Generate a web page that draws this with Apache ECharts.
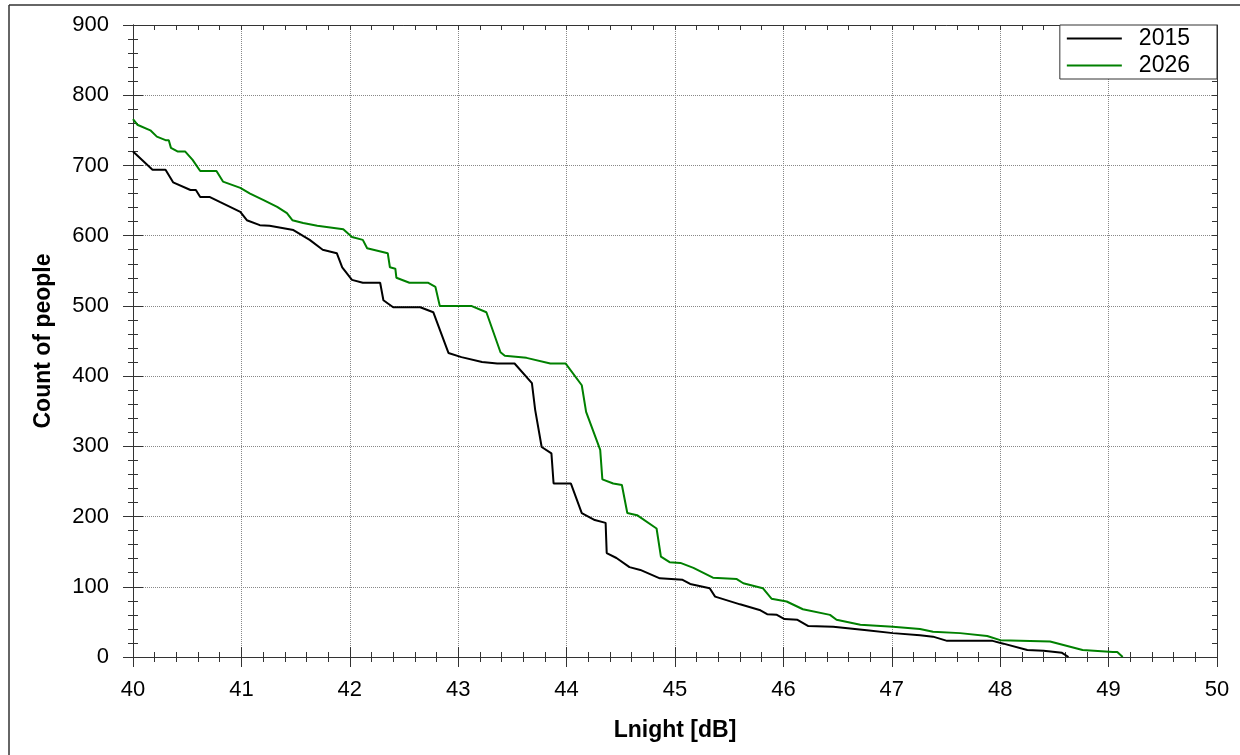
<!DOCTYPE html>
<html>
<head>
<meta charset="utf-8">
<script src="https://cdn.jsdelivr.net/npm/echarts/dist/echarts.min.js"></script>
<style>
    html, body { margin: 0; padding: 0; background: #fff; }
    #chart { width: 1240px; height: 755px; }
</style>
</head>
<body>
<div id="chart"></div>
<script>
let seriesNames = ['2015', '2026'];

let x2015 = [40.00, 40.18, 40.30, 40.37, 40.53, 40.58, 40.62, 40.71, 40.80, 40.99,
    41.05, 41.17, 41.26, 41.48, 41.63, 41.75, 41.88, 41.93, 42.02, 42.12,
    42.28, 42.31, 42.40, 42.65, 42.77, 42.91, 43.03, 43.22, 43.36, 43.52,
    43.68, 43.71, 43.77, 43.86, 43.88, 44.04, 44.14, 44.26, 44.36, 44.37,
    44.46, 44.58, 44.68, 44.86, 45.07, 45.14, 45.32, 45.37, 45.60, 45.78,
    45.85, 45.94, 46.01, 46.13, 46.23, 46.46, 46.77, 47.01, 47.26, 47.38,
    47.51, 47.93, 48.03, 48.25, 48.40, 48.57, 48.63];
let y2015 = [720, 694, 694, 676, 665, 665, 655, 655, 648, 634,
    622, 615, 614, 608, 594, 580, 575, 555, 537, 533,
    533, 508, 498, 498, 491, 433, 427, 420, 418, 418,
    390, 352, 299, 290, 247, 247, 205, 195, 191, 148,
    141, 128, 124, 112, 110, 104, 98, 86, 75, 67,
    61, 60, 54, 53, 44, 43, 38, 34, 31, 29,
    23, 23, 19, 10, 9, 6, 0];

let x2026 = [40.00, 40.04, 40.16, 40.22, 40.30, 40.33, 40.35, 40.41, 40.48, 40.55,
    40.62, 40.77, 40.83, 40.99, 41.08, 41.20, 41.33, 41.42, 41.47, 41.57,
    41.70, 41.94, 42.02, 42.12, 42.16, 42.35, 42.37, 42.42, 42.43, 42.55,
    42.72, 42.79, 42.83, 43.12, 43.26, 43.39, 43.43, 43.63, 43.85, 43.99,
    44.14, 44.18, 44.31, 44.33, 44.43, 44.51, 44.56, 44.65, 44.83, 44.87,
    44.95, 45.05, 45.17, 45.35, 45.57, 45.63, 45.81, 45.89, 46.03, 46.18,
    46.43, 46.49, 46.71, 47.01, 47.26, 47.38, 47.63, 47.88, 48.00, 48.46,
    48.76, 49.04, 49.08, 49.13];
let y2026 = [766, 758, 750, 741, 736, 736, 725, 720, 720, 708,
    692, 692, 677, 668, 660, 651, 641, 632, 622, 618,
    614, 609, 598, 594, 582, 575, 555, 553, 540, 533,
    533, 527, 500, 500, 491, 434, 429, 426, 418, 418,
    387, 349, 295, 253, 247, 245, 205, 202, 183, 143,
    135, 134, 127, 113, 111, 105, 98, 83, 79, 68,
    60, 53, 46, 43, 40, 36, 34, 30, 24, 22,
    10, 7, 7, 0];

let xTicks = { min: 40, max: 50, interval: 1 };
let yTicks = { min: 0, max: 900, interval: 100 };

function pairs(xs, ys) {
    return xs.map(function (x, i) { return [x, ys[i]]; });
}

let axisColor = '#333';
let font = 'Liberation Sans, Arial, sans-serif';

// one axis draws labels + outer ticks, the others only add the inner ticks
function xAxisPart(position, inside, withLabels, tickLen, minorLen) {
    return {
        type: 'value', position: position,
        min: xTicks.min, max: xTicks.max, interval: xTicks.interval,
        axisLine: { show: true, onZero: false, lineStyle: { color: axisColor, width: 1 } },
        axisTick: { show: true, inside: inside, length: tickLen, lineStyle: { color: axisColor } },
        minorTick: { show: true, splitNumber: 5, length: minorLen, lineStyle: { color: axisColor } },
        axisLabel: { show: withLabels, fontSize: 22, margin: 22, color: '#000', fontFamily: font },
        splitLine: { show: withLabels, lineStyle: { type: 'dotted', color: '#888', width: 1 } },
        minorSplitLine: { show: false }
    };
}
function yAxisPart(position, inside, withLabels, tickLen, minorLen) {
    return {
        type: 'value', position: position,
        min: yTicks.min, max: yTicks.max, interval: yTicks.interval,
        axisLine: { show: true, onZero: false, lineStyle: { color: axisColor, width: 1 } },
        axisTick: { show: true, inside: inside, length: tickLen, lineStyle: { color: axisColor } },
        minorTick: { show: true, splitNumber: 5, length: minorLen, lineStyle: { color: axisColor } },
        axisLabel: { show: withLabels, fontSize: 22, margin: 24, color: '#000', fontFamily: font },
        splitLine: { show: withLabels, lineStyle: { type: 'dotted', color: '#888', width: 1 } },
        minorSplitLine: { show: false }
    };
}

let xMain = xAxisPart('bottom', false, true, 10, 5);
xMain.name = 'Lnight [dB]';
xMain.nameLocation = 'middle';
xMain.nameGap = 62;
xMain.nameTextStyle = { fontSize: 23, fontWeight: 'bold', color: '#000', fontFamily: font };

let yMain = yAxisPart('left', false, true, 10, 5);
yMain.name = 'Count of people';
yMain.nameLocation = 'middle';
yMain.nameGap = 78;
yMain.nameTextStyle = { fontSize: 23, fontWeight: 'bold', color: '#000', fontFamily: font };

let option = {
    animation: false,
    backgroundColor: '#fff',
    grid: { left: 133, right: 23, top: 25, bottom: 98, containLabel: false },
    legend: {
        data: seriesNames,
        orient: 'vertical',
        right: 23,
        top: 25,
        icon: 'rect',
        itemWidth: 55,
        itemHeight: 2,
        itemGap: 4,
        padding: [2, 27, 2, 7],
        borderColor: '#333',
        borderWidth: 1,
        backgroundColor: '#fff',
        textStyle: { fontSize: 23, lineHeight: 23, color: '#000', fontFamily: font, padding: [0, 0, 0, 12] }
    },
    xAxis: [
        xMain,
        xAxisPart('bottom', true, false, 10, 5),
        xAxisPart('top', true, false, 5, 5)
    ],
    yAxis: [
        yMain,
        yAxisPart('left', true, false, 10, 5),
        yAxisPart('right', true, false, 5, 5)
    ],
    graphic: [
        { type: 'line', shape: { x1: 9, y1: 5, x2: 1240, y2: 5 }, style: { stroke: '#333', lineWidth: 1.5 } },
        { type: 'line', shape: { x1: 9, y1: 5, x2: 9, y2: 755 }, style: { stroke: '#333', lineWidth: 1.5 } }
    ],
    series: [
        {
            name: seriesNames[0], type: 'line', xAxisIndex: 0, yAxisIndex: 0,
            data: pairs(x2015, y2015), symbol: 'none', color: '#000',
            lineStyle: { width: 2, color: '#000' }
        },
        {
            name: seriesNames[1], type: 'line', xAxisIndex: 0, yAxisIndex: 0,
            data: pairs(x2026, y2026), symbol: 'none', color: '#008000',
            lineStyle: { width: 2, color: '#008000' }
        }
    ]
};

let myChart = echarts.init(document.getElementById('chart'));
myChart.setOption(option, true);
window.addEventListener('resize', function () {
    myChart.resize();
});
</script>
</body>
</html>
